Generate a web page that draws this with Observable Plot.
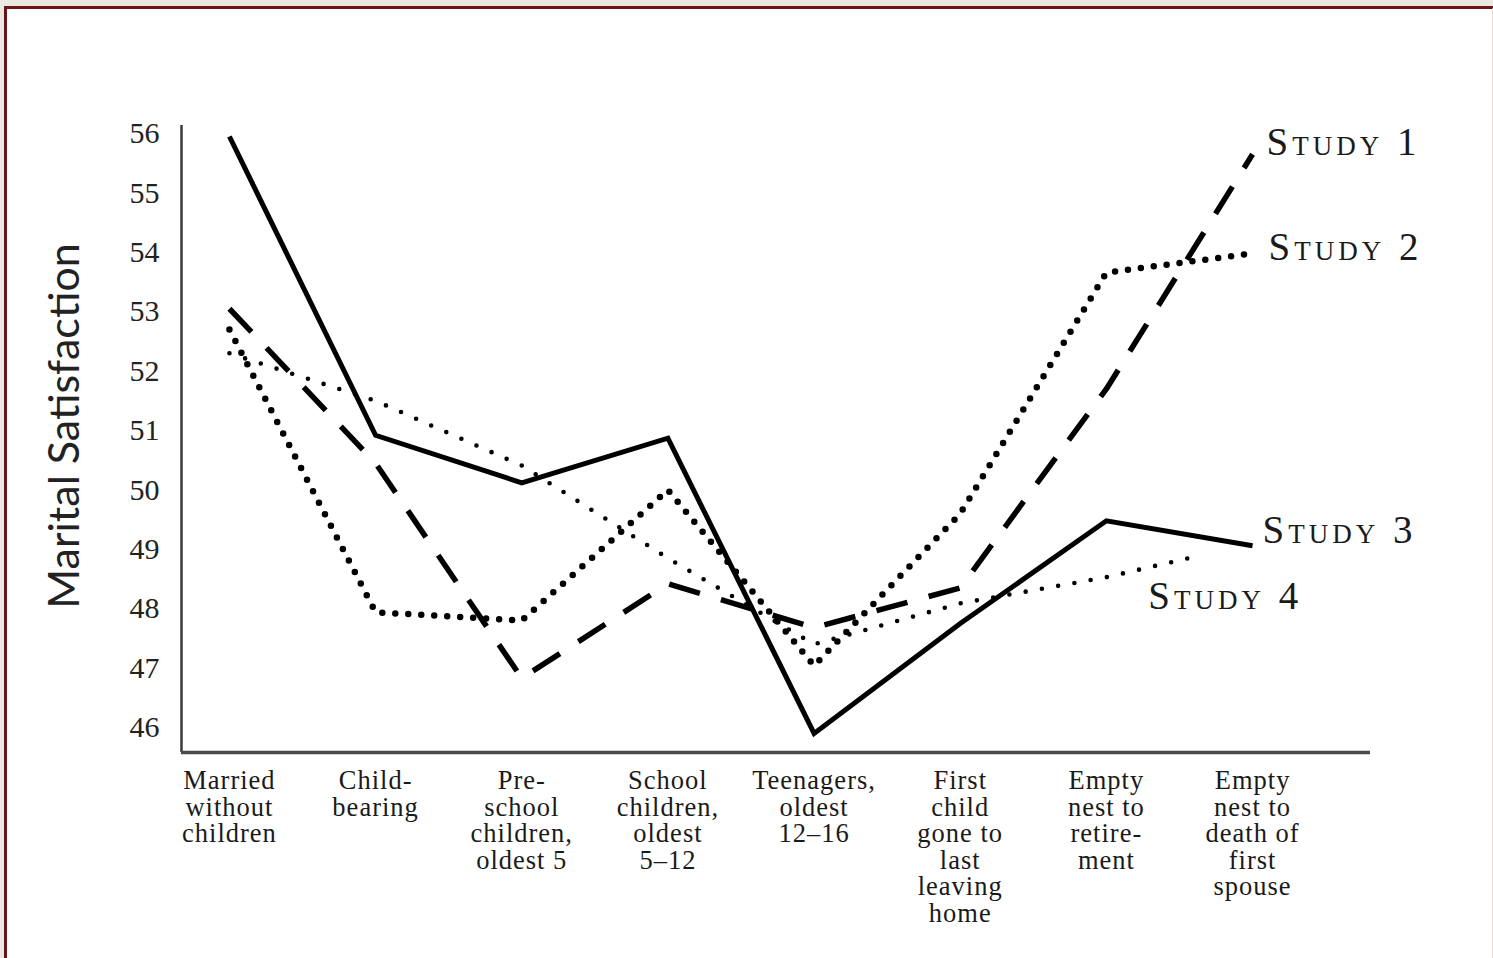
<!DOCTYPE html>
<html><head><meta charset="utf-8">
<script src="https://cdn.jsdelivr.net/npm/d3@7"></script>
<script src="https://cdn.jsdelivr.net/npm/@observablehq/plot@0.6"></script>
<style>
html,body{margin:0;padding:0;width:1493px;height:958px;overflow:hidden;background:#ebe7e3;}
#frame{position:absolute;left:4px;top:6px;width:1485px;height:952px;background:#fff;border-top:3px solid #6a1417;border-left:3px solid #6a1417;border-right:2px solid #f3d6d6;}
#chart{position:absolute;left:0;top:0;}
.study-label text{letter-spacing:4px;}
g[aria-label='x-axis tick label'] text{letter-spacing:1px;}
</style></head><body><div id="frame"></div><div id="chart"></div>
<script>
// ---- data ----
const stages = [
  "Married\nwithout\nchildren",
  "Child-\nbearing",
  "Pre-\nschool\nchildren,\noldest 5",
  "School\nchildren,\noldest\n5–12",
  "Teenagers,\noldest\n12–16",
  "First\nchild\ngone to\nlast\nleaving\nhome",
  "Empty\nnest to\nretire-\nment",
  "Empty\nnest to\ndeath of\nfirst\nspouse"
];
const stageIndex = [0, 1, 2, 3, 4, 5, 6, 7];
const seriesNames = ["Study 1", "Study 2", "Study 3", "Study 4"];
const study1 = [53.05, 50.45, 46.83, 48.42, 47.68, 48.35, 51.7, 55.65];
const study2 = [52.7, 47.94, 47.8, 50.0, 47.04, 49.6, 53.66, 53.98];
const study3 = [55.95, 50.92, 50.12, 50.87, 45.9, 47.75, 49.48, 49.06];
const study4 = [52.3, 51.5, 50.41, 48.85, 47.4, 48.09, 48.53, 48.85];
const study4Index = [0, 1, 2, 3, 4, 5, 6, 6.56];
const yTicks = [46, 47, 48, 49, 50, 51, 52, 53, 54, 55, 56];
const yLabel = "Marital Satisfaction";

// ---- tidy table ----
const seriesValues = [study1, study2, study3, study4];
const seriesIndex = [stageIndex, stageIndex, stageIndex, study4Index];
const rows = [];
seriesNames.forEach((name, s) => {
  seriesValues[s].forEach((v, i) => rows.push({series: name, stage: seriesIndex[s][i], value: v}));
});

// ---- styles ----
const serif = "'Liberation Serif', 'DejaVu Serif', serif";
const lineStyle = {
  "Study 1": {strokeWidth: 5.5, strokeDasharray: "32,22", strokeLinecap: "butt", strokeLinejoin: "miter"},
  "Study 2": {strokeWidth: 6.5, strokeDasharray: "0,13", strokeLinecap: "round", strokeLinejoin: "round"},
  "Study 3": {strokeWidth: 5, strokeLinecap: "butt", strokeLinejoin: "miter", strokeMiterlimit: 10},
  "Study 4": {strokeWidth: 4.6, strokeDasharray: "0,16.5", strokeLinecap: "round", strokeLinejoin: "round"}
};
const labelStyle = {
  "Study 1": {dx: 14, dy: -12},
  "Study 2": {dx: 16, dy: -6},
  "Study 3": {dx: 10, dy: -15},
  "Study 4": {dx: -40, dy: 38}
};

const marks = [];
// axes lines
marks.push(Plot.ruleX([-0.328], {stroke: "#3a3a3a", strokeWidth: 2.5}));
marks.push(Plot.ruleY([45.579], {stroke: "#4a4a4a", strokeWidth: 3.5}));
seriesNames.forEach(name => {
  const data = rows.filter(d => d.series === name);
  marks.push(Plot.line(data, {x: "stage", y: "value", stroke: "#000", ...lineStyle[name]}));
  const last = data[data.length - 1];
  marks.push(Plot.text([last], {
    x: "stage", y: "value", text: "series", textAnchor: "start",
    fontFamily: serif, fontSize: 39, fontVariant: "small-caps",
    fill: "#1a1a1a", className: "study-label", ...labelStyle[name]
  }));
});
marks.push(Plot.axisX({
  ticks: stageIndex, tickFormat: i => stages[i], tickSize: 0, tickPadding: 18,
  fontSize: 26.5, fontFamily: serif, lineHeight: 1, fill: "#1a1a1a", label: null
}));
marks.push(Plot.axisY({
  ticks: yTicks, tickSize: 0, tickPadding: 22, fontSize: 30, fontFamily: serif, fill: "#222",
  label: yLabel, labelAnchor: "center", labelArrow: "none", labelOffset: 133
}));

const chart = Plot.plot({
  width: 1493, height: 958,
  marginLeft: 181, marginRight: 123, marginTop: 125, marginBottom: 206,
  style: {background: "transparent", overflow: "visible"},
  x: {type: "linear", domain: [-0.328, 7.807]},
  y: {domain: [45.579, 56.135]},
  marks
});
document.getElementById("chart").appendChild(chart);
// style the y-axis title
chart.querySelectorAll("g[aria-label='y-axis label'] text").forEach(t => {
  t.setAttribute("font-size", "43");
  t.setAttribute("font-family", "Lato, 'Open Sans', sans-serif");
  t.style.fontSize = "43px";
  t.style.fontFamily = "Lato, 'Open Sans', sans-serif";
  t.setAttribute("fill", "#222");
  t.setAttribute("dx", "13");
});
</script></body></html>
